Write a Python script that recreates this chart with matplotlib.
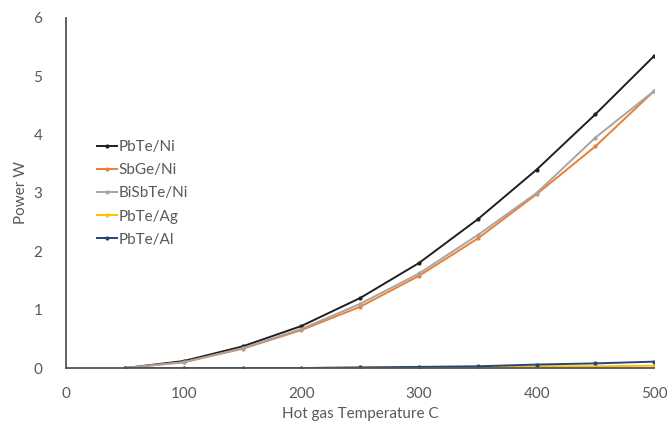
import matplotlib
matplotlib.use("Agg")
import matplotlib.pyplot as plt
import numpy as np

plt.rcParams["font.family"] = ["Lato", "DejaVu Sans"]

temps = [50, 100, 150, 200, 250, 300, 350, 400, 450, 500]
pbte_ni = [0.0, 0.12, 0.37, 0.72, 1.20, 1.80, 2.55, 3.40, 4.35, 5.35]
sbge_ni = [0.0, 0.10, 0.33, 0.65, 1.05, 1.58, 2.22, 2.98, 3.80, 4.75]
bisbte_ni = [0.0, 0.10, 0.34, 0.67, 1.10, 1.62, 2.28, 3.00, 3.95, 4.75]
pbte_ag = [0.0, 0.0, 0.0, 0.0, 0.01, 0.01, 0.02, 0.03, 0.03, 0.04]
pbte_al = [0.0, 0.0, 0.0, 0.0, 0.01, 0.02, 0.03, 0.06, 0.08, 0.11]

series = [
    ("PbTe/Ni", pbte_ni, "#1f1f1f"),
    ("SbGe/Ni", sbge_ni, "#ed7d31"),
    ("BiSbTe/Ni", bisbte_ni, "#a5a5a5"),
    ("PbTe/Ag", pbte_ag, "#ffc000"),
    ("PbTe/Al", pbte_al, "#264478"),
]

fig, ax = plt.subplots(figsize=(6.67, 4.25), dpi=100)
fig.subplots_adjust(left=0.099, right=0.981, top=0.958, bottom=0.134)

for name, vals, col in series:
    ax.plot(temps, vals, color=col, lw=1.4, marker="o", ms=2, label=name)

ax.set_xlim(0, 500)
ax.set_ylim(0, 6)
ax.set_xticks(range(0, 501, 100))
ax.set_yticks(range(0, 7))
txt = "#595959"
ax.tick_params(colors=txt, labelsize=11, length=0)
ax.tick_params(axis="x", pad=14)
ax.tick_params(axis="y", pad=17)
ax.spines["top"].set_visible(False)
ax.spines["right"].set_visible(False)
for s in ("left", "bottom"):
    ax.spines[s].set_color("#555555")
    ax.spines[s].set_linewidth(1.3)
ax.set_xlabel("Hot gas Temperature C", color=txt, fontsize=11, labelpad=4)
ax.set_ylabel("Power W", color=txt, fontsize=11, labelpad=4)

leg = ax.legend(loc="upper left", bbox_to_anchor=(0.03, 0.69), frameon=False,
                fontsize=11, handlelength=1.3, handletextpad=0.1, labelspacing=0.6)
for t in leg.get_texts():
    t.set_color(txt)

fig.savefig("out.png", dpi=100)
